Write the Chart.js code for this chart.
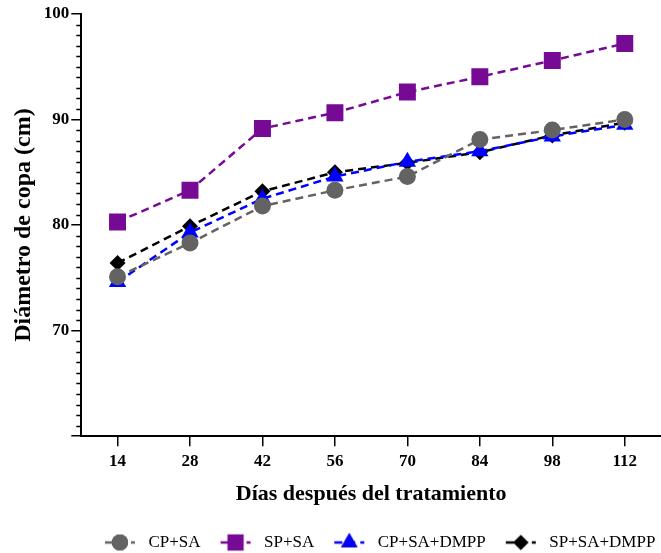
<!DOCTYPE html>
<html>
<head>
<meta charset="utf-8">
<script src="https://cdn.jsdelivr.net/npm/chart.js@4.4.1/dist/chart.umd.min.js"></script>
<style>
html,body{margin:0;padding:0;background:#fff;}
#wrap{width:661px;height:553px;}
</style>
</head>
<body>
<div id="wrap"><canvas id="c" width="661" height="553"></canvas></div>
<script>
const days = ['14','28','42','56','70','84','98','112'];
const cpSa = [75.1, 78.3, 81.8, 83.3, 84.6, 88.1, 89.0, 90.0];
const spSa = [80.3, 83.3, 89.15, 90.65, 92.6, 94.05, 95.6, 97.2];
const cpSaDmpp = [74.6, 79.3, 82.5, 84.6, 86.0, 87.0, 88.4, 89.5];
const spSaDmpp = [76.4, 79.9, 83.2, 85.0, 85.9, 86.9, 88.5, 89.7];
const seriesNames = ['CP+SA','SP+SA','CP+SA+DMPP','SP+SA+DMPP'];
const yTickValues = [60,70,80,90,100];

const FONT = '"Liberation Serif","Times New Roman",serif';
const colors = ['#636363','#770a95','#0000ff','#000000'];
const styles = ['circle','rect','triangle','rectRot'];
const radii = [8.5, 12, 10, 8];
const seriesData = [cpSa, spSa, cpSaDmpp, spSaDmpp];

const LEG_W = 53;
function legendImage(i){
  const cv = document.createElement('canvas');
  cv.width = LEG_W; cv.height = 22;
  const ctx = cv.getContext('2d');
  const x0 = LEG_W - 35, x1 = LEG_W - 5, xc = (x0 + x1) / 2;
  ctx.strokeStyle = colors[i];
  ctx.lineWidth = 2.5;
  ctx.setLineDash([8,5]);
  ctx.beginPath(); ctx.moveTo(x0,11); ctx.lineTo(x1,11); ctx.stroke();
  ctx.setLineDash([]);
  Chart.helpers.drawPoint(ctx, {pointStyle: styles[i], radius: radii[i]*0.95, rotation: 0, borderWidth: 0}, xc, 11);
  ctx.fillStyle = colors[i];
  ctx.fill();
  return cv;
}

const minorTicks = {
  id: 'minorTicks',
  afterDraw(chart){
    const y = chart.scales.y;
    const ctx = chart.ctx;
    ctx.save();
    ctx.strokeStyle = '#000';
    ctx.lineWidth = 1.5;
    for (let v = y.min; v <= y.max; v++){
      if (v % 10 === 0) continue;
      const py = Math.round(y.getPixelForValue(v)) + 0.5;
      ctx.beginPath();
      ctx.moveTo(y.right - 5, py);
      ctx.lineTo(y.right, py);
      ctx.stroke();
    }
    ctx.restore();
  }
};

const datasets = seriesNames.map((n,i)=>({
  label: n,
  data: seriesData[i],
  borderColor: colors[i],
  backgroundColor: colors[i],
  borderWidth: 2.5,
  borderDash: [8,5],
  pointStyle: styles[i],
  pointRadius: radii[i],
  pointHoverRadius: radii[i],
  pointBorderWidth: 0,
  pointBackgroundColor: colors[i],
  tension: 0,
  fill: false
}));

new Chart(document.getElementById('c'), {
  type: 'line',
  data: { labels: days, datasets },
  options: {
    responsive: false,
    animation: false,
    layout: { autoPadding: false, padding: { top: 14, left: 9, right: 0, bottom: -8 } },
    plugins: {
      tooltip: { enabled: false },
      legend: {
        position: 'bottom',
        fullSize: false,
        labels: {
          usePointStyle: true,
          pointStyleWidth: LEG_W,
          padding: 2,
          color: '#000',
          font: { family: FONT, size: 17 },
          generateLabels(chart){
            return chart.data.datasets.map((d,i)=>({
              text: d.label,
              pointStyle: legendImage(i),
              fillStyle: colors[i],
              strokeStyle: colors[i],
              lineWidth: 0,
              hidden: false,
              datasetIndex: i,
              fontColor: '#000'
            }));
          }
        }
      }
    },
    scales: {
      x: {
        type: 'category',
        offset: true,
        border: { display: true, color: '#000', width: 2 },
        grid: { display: true, drawOnChartArea: false, offset: false, color: '#000', lineWidth: 1.5, tickLength: 10 },
        ticks: { color: '#000', font: { family: FONT, size: 17, weight: 'bold' }, padding: 5, maxRotation: 0 },
        title: { display: true, text: 'Días después del tratamiento', color: '#000', font: { family: FONT, size: 22, weight: 'bold' }, padding: { top: 5, bottom: 24 } }
      },
      y: {
        type: 'linear',
        min: 60, max: 100,
        afterBuildTicks(scale){ scale.ticks = yTickValues.map(v=>({value:v})); },
        border: { display: true, color: '#000', width: 2 },
        grid: { display: true, drawOnChartArea: false, color: '#000', lineWidth: 1.5, tickLength: 10 },
        ticks: { color: '#000', font: { family: FONT, size: 17, weight: 'bold' }, padding: 2,
          callback: (v)=> v === 60 ? '' : String(v) },
        title: { display: true, text: 'Diámetro de copa (cm)', color: '#000', font: { family: FONT, size: 24, weight: 'bold' }, padding: { top: 0, bottom: 4 } }
      }
    }
  },
  plugins: [minorTicks]
});
</script>
</body>
</html>
